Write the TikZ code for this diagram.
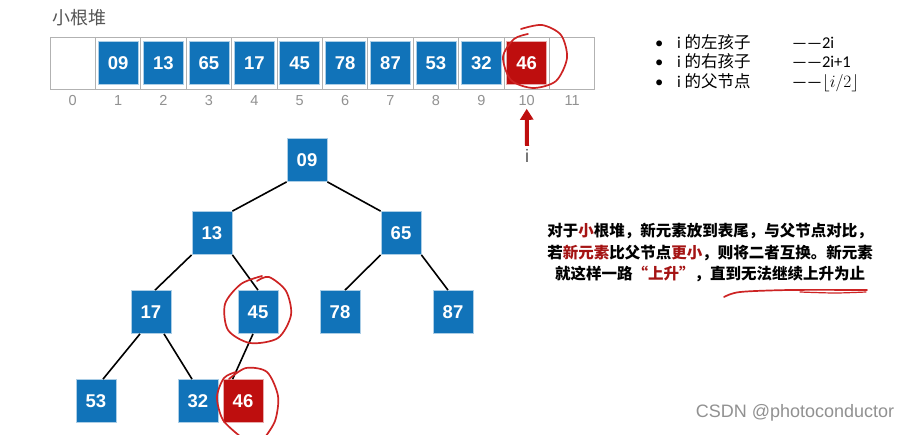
\documentclass[tikz,border=0pt]{standalone}
\usepackage{fontspec}
\setmainfont{Liberation Sans}
\newfontfamily\cjk{Noto Sans CJK SC}
\newfontfamily\calib{Carlito}
\usetikzlibrary{arrows.meta, calc}
\definecolor{HeapBlue}{RGB}{17,115,185}
\definecolor{HeapRed}{RGB}{190,14,14}
\definecolor{GridGray}{RGB}{178,178,178}
\definecolor{IdxGray}{RGB}{145,145,145}
\definecolor{TitleGray}{RGB}{85,85,85}
\definecolor{InkRed}{RGB}{205,35,35}
\definecolor{TxtRed}{RGB}{165,20,20}

\begin{document}
\begin{tikzpicture}[x=1pt, y=-1pt,
      cell/.style={rectangle, draw=GridGray, line width=0.8pt,
                   minimum width=45.4pt, minimum height=52pt, inner sep=0pt},
      key/.style={rectangle, fill=HeapBlue, draw=HeapBlue!35, line width=0.8pt,
                  minimum width=40pt, minimum height=43pt, inner sep=0pt,
                  text=white, font=\fontsize{18.5}{18.5}\selectfont\bfseries},
      newkey/.style={key, fill=HeapRed, draw=HeapRed!35},
      idx/.style={font=\fontsize{14.5}{14.5}\selectfont, text=IdxGray,
                  text height=10.5pt, text depth=0pt},
      lbl/.style={font=\calib\fontsize{16.5}{16.5}\selectfont, anchor=west, inner sep=0pt,
                  text height=12pt, text depth=3pt},
      note/.style={align=center, font=\cjk\bfseries\fontsize{15.5}{21.5}\selectfont},
      link/.style={line width=1.6pt, black},
      ptr/.style={-{Triangle[length=11pt, width=13pt]}, line width=4pt, HeapRed},
      ink/.style={InkRed, line width=1.7pt, line cap=round, line join=round}
    ]
    \useasboundingbox (0,0) rectangle (915,434);
    \fill[white] (0,0) rectangle (915,434);

    % Array storage
    \node[font=\cjk\fontsize{18}{18}\selectfont, text=TitleGray] (heapname) at (79,18) {小根堆};
    \foreach \i in {0,...,11} {
      \node[cell] (c\i) at ({72.7+45.4*\i}, 63) {};
      \node[idx] (i\i) at ({72.7+45.4*\i}, 100) {\i};
    }
    \foreach \v [count=\i] in {09,13,65,17,45,78,87,53,32} {
      \node[key] (a\i) at (c\i) {\v};
    }
    \node[newkey] (a10) at (c10) {46};

    % Pointer i
    \node[font=\fontsize{18}{18}\selectfont, text=TitleGray] (iptr) at (527,156) {i};
    \draw[ptr] (iptr.north) -- (i10.south);

    % Index formulas
    \foreach \y/\t/\r [count=\n] in {44/左孩子/2i, 63/右孩子/2i+1, 83/父节点/{$\lfloor i/2\rfloor$}} {
      \node[lbl] (bl\n) at (655,\y) {•};
      \node[lbl] (bt\n) at (677,\y) {i \cjk 的\t};
      \node[lbl] (br\n) at (792,\y) {——\r};
    }

    % Tree view
    \node[key] (h1) at (307,160) {09};
    \node[key] (h2) at (212,233) {13};
    \node[key] (h3) at (401,233) {65};
    \node[key] (h4) at (151,312) {17};
    \node[key] (h5) at (258,312) {45};
    \node[key] (h6) at (340,312) {78};
    \node[key] (h7) at (453,312) {87};
    \node[key] (h8) at (96,401) {53};
    \node[key] (h9) at (198,401) {32};
    \node[newkey] (h10) at (243,401) {46};

    \draw[link] (h1.south west) -- (h2.north east);
    \draw[link] (h1.south east) -- (h3.north west);
    \draw[link] (h2.south west) -- ([xshift=4pt]h4.north);
    \draw[link] (h2.south east) -- (h5.north);
    \draw[link] (h3.south west) -- ([xshift=5pt]h6.north);
    \draw[link] (h3.south east) -- ([xshift=-5pt]h7.north);
    \draw[link] ([xshift=-11pt]h4.south) -- ([xshift=7pt]h8.north);
    \draw[link] ([xshift=13pt]h4.south) -- ([xshift=-6pt]h9.north);
    \draw[link] ([xshift=-5pt]h5.south) -- ([xshift=10pt]h10.north west);

    % Explanation
    \node[note] (rule) at (710,253) {%
      对于\textcolor{TxtRed}{小}根堆，新元素放到表尾，与父节点对比，\\
      若\textcolor{TxtRed}{新元素}比父节点\textcolor{TxtRed}{更小}，则将二者互换。新元素\\
      就这样一路\textcolor{TxtRed}{“上升”}，直到无法继续上升为止};

    % Hand-drawn marks
    \draw[ink] plot[smooth] coordinates {(528,34) (514,39) (503,57) (511,80) (533,88)
      (556,81) (567,58) (561,35) (542,25) (521,29)};
    \draw[ink] plot[smooth] coordinates {(262,276) (241,284) (225,304) (228,330) (250,343)
      (278,338) (291,315) (286,291) (269,277) (257,281)};
    \draw[ink] plot[smooth] coordinates {(236,372) (224,378) (217,397) (223,420) (241,437)};
    \draw[ink] plot[smooth] coordinates {(229,379) (246,368) (267,372) (278,396) (275,421) (263,440)};
    \draw[ink] plot[smooth] coordinates {(724,297) (740,292) (790,290) (867,290)};
    \draw[ink, line width=1.2pt] plot[smooth] coordinates {(800,292) (835,293) (866,292)};

    % Watermark
    \node[font=\fontsize{18}{18}\selectfont, text=IdxGray] (mark) at (795,413) {CSDN @photoconductor};
  \end{tikzpicture}
\end{document}
